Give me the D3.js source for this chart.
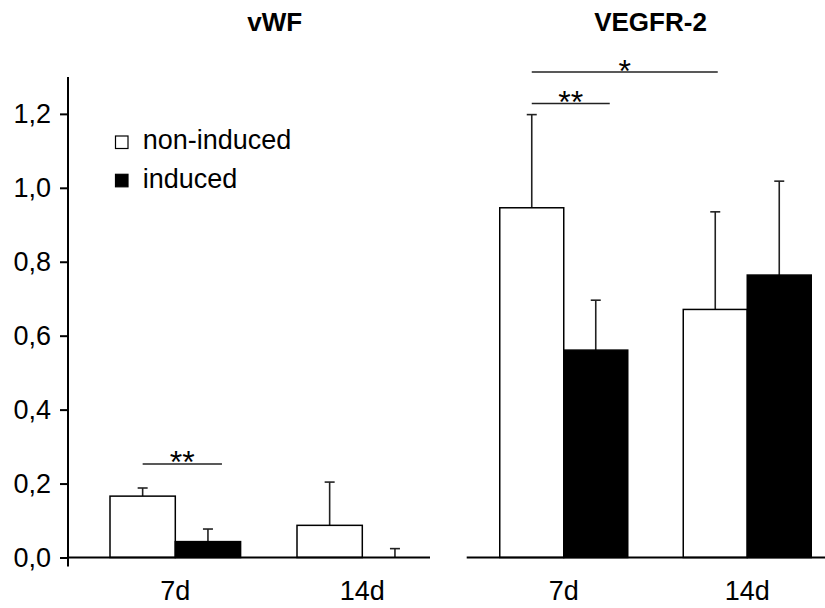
<!DOCTYPE html>
<html><head><meta charset="utf-8">
<script src="https://cdn.jsdelivr.net/npm/d3@7"></script>
<style>body{margin:0;background:#fff}svg{display:block;font-family:"Liberation Sans",Arial,sans-serif}</style>
</head><body><svg id="c" width="825" height="608"></svg>
<script>
const panels = ["vWF", "VEGFR-2"];
const groups = ["7d", "14d"];
const series = ["non-induced", "induced"];
// values[panel][group] = [non-induced, induced]
const vwfMean = [[0.166, 0.043], [0.087, 0.0]];
const vwfErr  = [[0.188, 0.077], [0.204, 0.024]];
const vegfMean = [[0.946, 0.561], [0.671, 0.764]];
const vegfErr  = [[1.198, 0.696], [0.935, 1.018]];
const yTicks = [0, 0.2, 0.4, 0.6, 0.8, 1.0, 1.2];
// significance brackets: panel index, from group/series, to group/series, height, label
const brackets = [
  {p:0, g1:"7d", s1:0, g2:"7d", s2:1, y:0.253, label:"**"},
  {p:1, g1:"7d", s1:0, g2:"7d", s2:1, y:1.228, label:"**"},
  {p:1, g1:"7d", s1:0, g2:"14d", s2:0, y:1.313, label:"*"}
];

const svg = d3.select("#c");
const y = d3.scaleLinear().domain([0, 1.3]).range([557.5, 76.9]);
const xPanels = [
  d3.scaleBand().domain(groups).range([81.8, 455.8]),
  d3.scaleBand().domain(groups).range([472, 839])
];
const halfW = [65.3, 64];
const xs = xPanels.map((xb, i) => d3.scaleBand().domain(d3.range(series.length)).range([-halfW[i], halfW[i]]));
const center = (p, g) => xPanels[p](g) + xPanels[p].bandwidth() / 2;
const barX = (p, g, s) => center(p, g) + xs[p](s);
const barC = (p, g, s) => barX(p, g, s) + xs[p].bandwidth() / 2;

const means = [vwfMean, vegfMean], errs = [vwfErr, vegfErr];
const baseRanges = [[68, 430], [466.7, 825]];

// titles
const titleX = [274.7, 650.5];
panels.forEach((t, i) => {
  svg.append("text").attr("x", titleX[i]).attr("y", 30.7).attr("text-anchor", "middle")
    .attr("font-size", 26).attr("font-weight", "bold").text(t);
});

// y axis
const yAxis = d3.axisLeft(y).tickValues(yTicks).tickSize(8).tickSizeOuter(0)
  .tickFormat(d => d3.format(".1f")(d).replace(".", ","));
const ga = svg.append("g").attr("transform", "translate(68,0)").call(yAxis);
ga.select(".domain").remove();
ga.selectAll(".tick line").attr("stroke", "#000").attr("stroke-width", 2);
ga.selectAll(".tick text").attr("font-size", 27).attr("fill", "#000").attr("x", -17)
  .attr("font-family", '"Liberation Sans",Arial,sans-serif');
svg.append("line").attr("x1", 68).attr("x2", 68).attr("y1", y(1.3)).attr("y2", y(0) + 9)
  .attr("stroke", "#000").attr("stroke-width", 2);

panels.forEach((pn, p) => {
  const g = svg.append("g");
  groups.forEach((gr, gi) => {
    series.forEach((s, si) => {
      const v = means[p][gi][si], e = errs[p][gi][si];
      const cx = barC(p, gr, si);
      // error bar
      g.append("line").attr("x1", cx).attr("x2", cx).attr("y1", y(v)).attr("y2", y(e))
        .attr("stroke", "#222").attr("stroke-width", 1.6);
      g.append("line").attr("x1", cx - 5).attr("x2", cx + 5).attr("y1", y(e)).attr("y2", y(e))
        .attr("stroke", "#222").attr("stroke-width", 1.6);
      g.append("rect").attr("x", barX(p, gr, si)).attr("width", xs[p].bandwidth())
        .attr("y", y(v)).attr("height", y(0) - y(v))
        .attr("fill", si === 0 ? "#fff" : "#000").attr("stroke", "#000").attr("stroke-width", 1.5);
    });
    svg.append("text").attr("x", center(p, gr)).attr("y", 600).attr("text-anchor", "middle")
      .attr("font-size", 27).text(gr);
  });
  g.append("line").attr("x1", baseRanges[p][0]).attr("x2", baseRanges[p][1])
    .attr("y1", y(0)).attr("y2", y(0)).attr("stroke", "#000").attr("stroke-width", 2);
});

// brackets
brackets.forEach(b => {
  const x1 = barC(b.p, b.g1, b.s1);
  let x2 = barC(b.p, b.g2, b.s2);
  x2 += (b.s2 === 1 ? 14 : 2.5);
  svg.append("line").attr("x1", x1).attr("x2", x2).attr("y1", y(b.y)).attr("y2", y(b.y))
    .attr("stroke", "#222").attr("stroke-width", 1.5);
  svg.append("text").attr("x", (x1 + x2) / 2).attr("y", y(b.y) + 9.5).attr("text-anchor", "middle")
    .attr("font-size", 32).text(b.label);
});

// legend
const leg = svg.append("g");
series.forEach((s, i) => {
  const yy = 136 + i * 38.3;
  leg.append("rect").attr("x", 115.5).attr("y", yy).attr("width", 12.5).attr("height", 12.5)
    .attr("fill", i === 0 ? "#fff" : "#000").attr("stroke", "#000").attr("stroke-width", 1.2);
  leg.append("text").attr("x", 142.7).attr("y", yy + 13.3).attr("font-size", 27).text(s);
});
</script></body></html>
